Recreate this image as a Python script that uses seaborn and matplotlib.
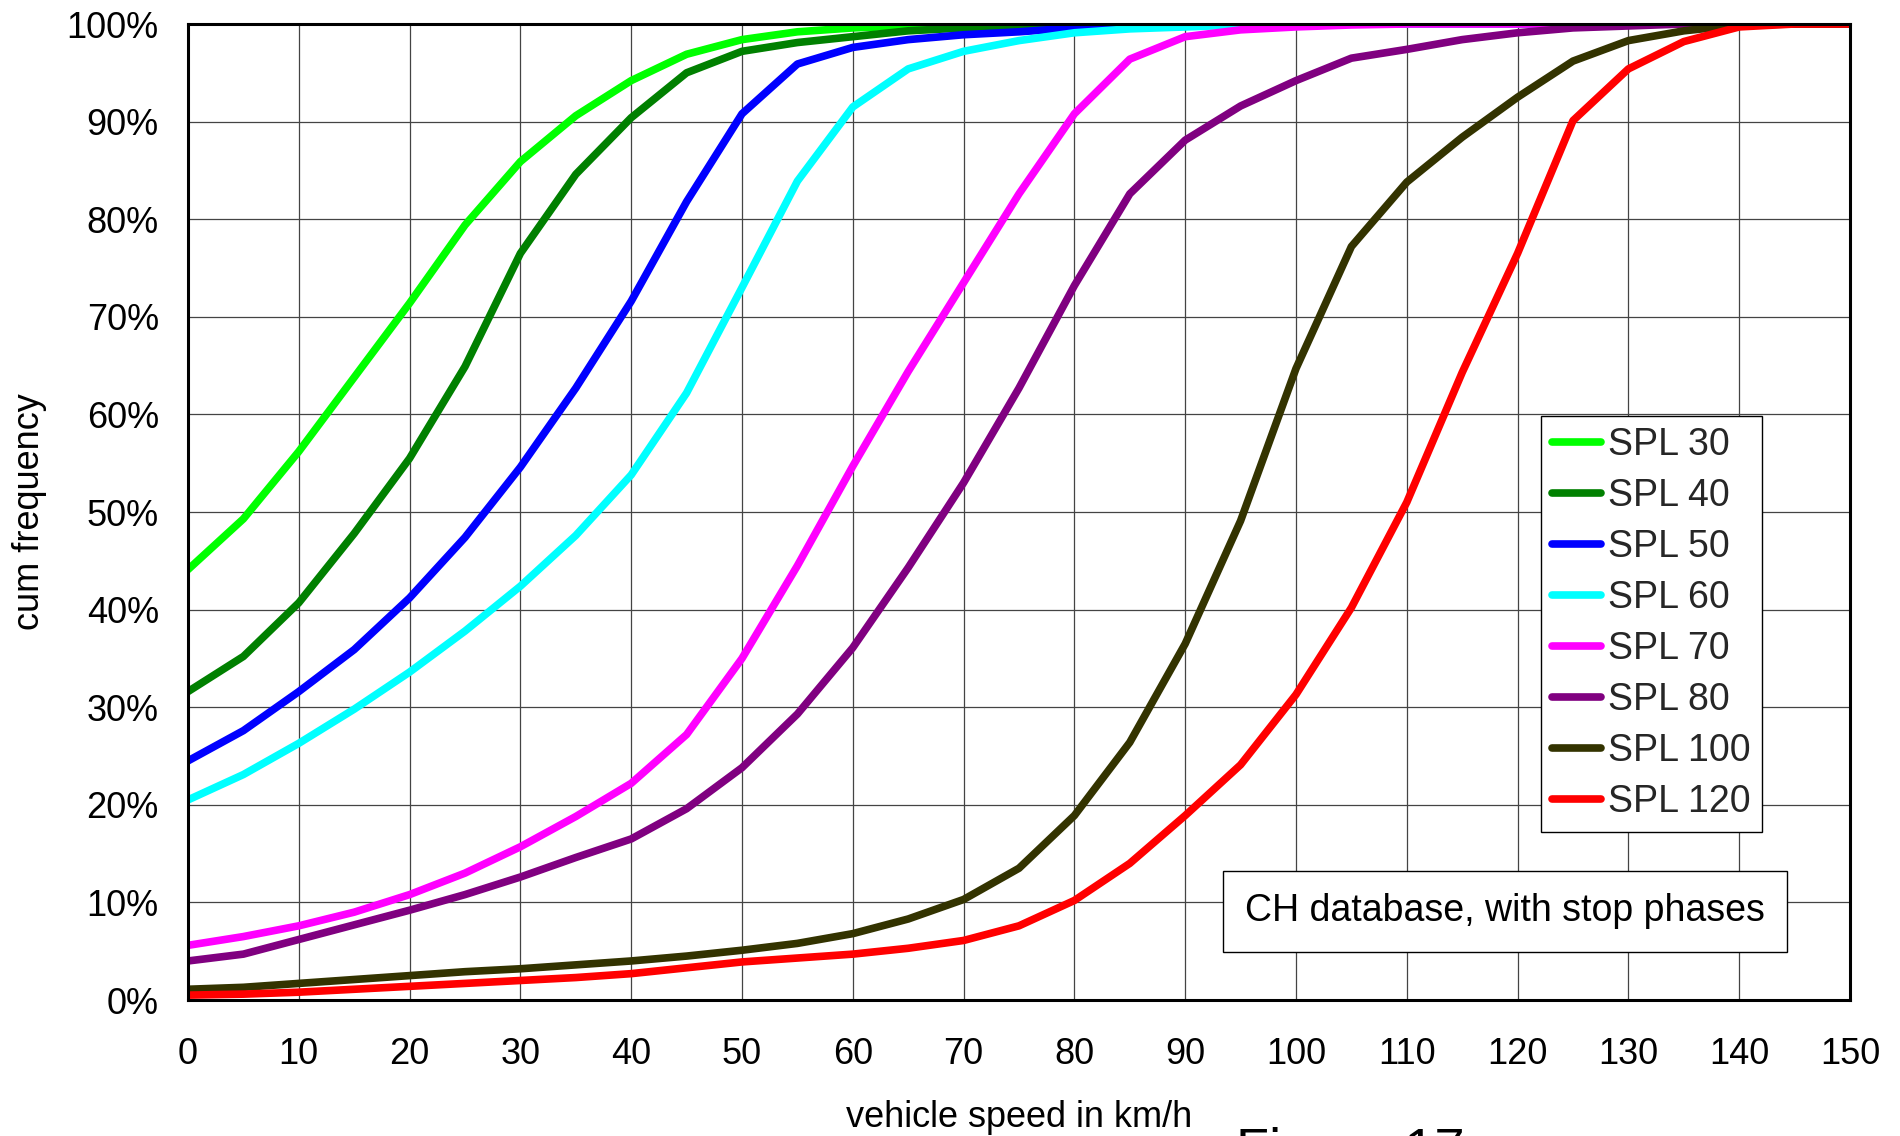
import numpy as np
import pandas as pd
import matplotlib
matplotlib.use("Agg")
import matplotlib.pyplot as plt
from matplotlib.lines import Line2D
from matplotlib.ticker import MultipleLocator, PercentFormatter
import seaborn as sns

# speed classes (km/h)
speeds = [0, 5, 10, 15, 20, 25, 30, 35, 40, 45, 50, 55, 60, 65, 70, 75,
          80, 85, 90, 95, 100, 105, 110, 115, 120, 125, 130, 135, 140, 145, 150]

# cumulative frequency in % per speed limit
spl30 = [44.1, 49.3, 56.2, 63.8, 71.4, 79.4, 85.9, 90.6, 94.2, 96.9, 98.4, 99.2, 99.6, 99.8, 99.9, 100,
         100, 100, 100, 100, 100, 100, 100, 100, 100, 100, 100, 100, 100, 100, 100]
spl40 = [31.6, 35.2, 40.7, 47.8, 55.5, 64.9, 76.5, 84.6, 90.4, 95.0, 97.2, 98.1, 98.7, 99.3, 99.6, 99.8,
         99.9, 100, 100, 100, 100, 100, 100, 100, 100, 100, 100, 100, 100, 100, 100]
spl50 = [24.5, 27.6, 31.6, 35.9, 41.2, 47.4, 54.6, 62.7, 71.6, 81.8, 90.8, 95.9, 97.6, 98.4, 98.9, 99.2,
         99.6, 99.8, 99.9, 100, 100, 100, 100, 100, 100, 100, 100, 100, 100, 100, 100]
spl60 = [20.5, 23.1, 26.3, 29.8, 33.6, 37.8, 42.4, 47.6, 53.8, 62.2, 73.0, 83.9, 91.5, 95.4, 97.2, 98.3,
         99.1, 99.5, 99.7, 99.9, 100, 100, 100, 100, 100, 100, 100, 100, 100, 100, 100]
spl70 = [5.6, 6.5, 7.6, 9.0, 10.8, 13.0, 15.7, 18.8, 22.2, 27.2, 35.0, 44.5, 54.7, 64.4, 73.5, 82.6,
         90.8, 96.4, 98.7, 99.4, 99.7, 99.9, 100, 100, 100, 100, 100, 100, 100, 100, 100]
spl80 = [4.0, 4.7, 6.2, 7.7, 9.2, 10.8, 12.6, 14.6, 16.5, 19.6, 23.8, 29.3, 36.1, 44.3, 53.0, 62.7,
         73.2, 82.6, 88.1, 91.6, 94.2, 96.5, 97.4, 98.4, 99.1, 99.6, 99.8, 100, 100, 100, 100]
spl100 = [1.1, 1.3, 1.7, 2.1, 2.5, 2.9, 3.2, 3.6, 4.0, 4.5, 5.1, 5.8, 6.8, 8.3, 10.3, 13.5,
          18.9, 26.4, 36.5, 49.1, 64.7, 77.2, 83.8, 88.4, 92.5, 96.2, 98.3, 99.3, 99.9, 100, 100]
spl120 = [0.5, 0.6, 0.8, 1.1, 1.4, 1.7, 2.0, 2.3, 2.7, 3.3, 3.9, 4.3, 4.7, 5.3, 6.1, 7.6,
          10.2, 14.0, 18.9, 24.1, 31.3, 40.2, 51.0, 64.3, 76.5, 90.1, 95.4, 98.2, 99.7, 100, 100]

series_names = ["SPL 30", "SPL 40", "SPL 50", "SPL 60", "SPL 70", "SPL 80", "SPL 100", "SPL 120"]
series_values = [spl30, spl40, spl50, spl60, spl70, spl80, spl100, spl120]
colors = ["#00FF00", "#008000", "#0000FF", "#00FFFF", "#FF00FF", "#800080", "#333300", "#FF0000"]

df = pd.concat(
    [pd.DataFrame({"speed": speeds, "cum": vals, "series": name})
     for name, vals in zip(series_names, series_values)],
    ignore_index=True,
)
palette = dict(zip(series_names, colors))

sns.set_theme(style="white")
plt.rcParams["font.family"] = ["Liberation Sans", "DejaVu Sans"]
FS = 26

fig = plt.figure(figsize=(19, 11.36), dpi=100)
ax = fig.add_axes([188 / 1900, 1 - 1000 / 1136, (1850 - 188) / 1900, (1000 - 24) / 1136])

sns.lineplot(data=df, x="speed", y="cum", hue="series", hue_order=series_names,
             palette=palette, linewidth=5.5, errorbar=None, legend=False, ax=ax)

ax.set_xlim(0, 150)
ax.set_ylim(0, 100)
ax.xaxis.set_major_locator(MultipleLocator(10))
ax.xaxis.set_minor_locator(MultipleLocator(2))
ax.yaxis.set_major_locator(MultipleLocator(10))
ax.yaxis.set_minor_locator(MultipleLocator(2))
ax.yaxis.set_major_formatter(PercentFormatter(xmax=100, decimals=0))

ax.grid(True, which="major", color="#444444", linewidth=0.9)
ax.set_axisbelow(True)
for sp in ax.spines.values():
    sp.set_color("black")
    sp.set_linewidth(2.2)

ax.tick_params(axis="both", which="major", direction="inout", length=16, width=1.5,
               color="black", labelsize=FS, labelcolor="black")
ax.tick_params(axis="both", which="minor", direction="inout", length=12, width=1.2, color="black")
ax.tick_params(axis="y", which="major", pad=13)
ax.tick_params(axis="x", which="major", pad=19)

ax.set_xlabel("vehicle speed in km/h", fontsize=FS, color="black", labelpad=20)
ax.set_ylabel("cum frequency", fontsize=FS, color="black", labelpad=14)

handles = [Line2D([0], [0], color=c, lw=5.5, solid_capstyle="round") for c in colors]
leg = ax.legend(handles, series_names, loc="upper left",
                bbox_to_anchor=(1541 / 1900, 1 - 416 / 1136), bbox_transform=fig.transFigure,
                borderaxespad=0, fontsize=27, frameon=True, fancybox=False, shadow=False,
                handlelength=1.3, handletextpad=0.2, labelspacing=0.4, borderpad=0.3)
leg.get_frame().set_edgecolor("black")
leg.get_frame().set_linewidth(1.0)
leg.get_frame().set_alpha(1)

ax.text(1505 / 1900, 1 - 911 / 1136, "CH database, with stop phases", transform=fig.transFigure,
        ha="center", va="center", fontsize=27, color="black",
        bbox=dict(boxstyle="square,pad=0.6", facecolor="white", edgecolor="black", linewidth=1.0))

fig.text(1236 / 1900, 1 - 1166 / 1136, "Figure 17", fontsize=39, color="black",
         ha="left", va="baseline")

fig.savefig("out.png", dpi=100)
